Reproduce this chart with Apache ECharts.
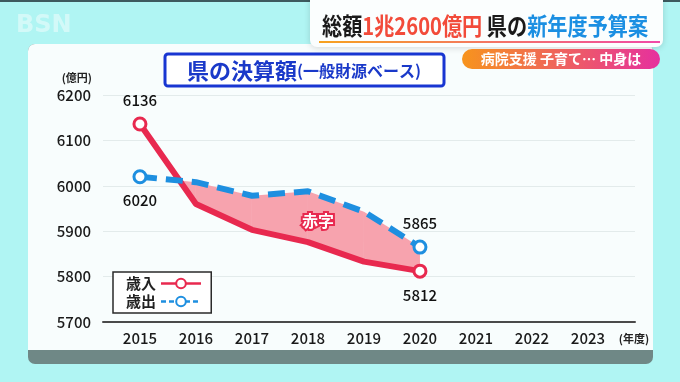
<!DOCTYPE html>
<html>
<head>
<meta charset="utf-8">
<script src="https://cdn.jsdelivr.net/npm/echarts@6/dist/echarts.min.js"></script>
<style>
html,body{margin:0;padding:0;background:#b0f5f3;}
#c{width:680px;height:382px;}
</style>
</head>
<body>
<div id="c"></div>
<script>
// ---- data ----
const axisYears = [2015, 2016, 2017, 2018, 2019, 2020, 2021, 2022, 2023];
const dataYears = [2015, 2016, 2017, 2018, 2019, 2020];
const revenue = [6136, 5960, 5903, 5876, 5833, 5812];      // 歳入
const expenditure = [6020, 6008, 5978, 5988, 5943, 5865];  // 歳出
const yTicks = [5700, 5800, 5900, 6000, 6100, 6200];
const seriesNames = ['歳入', '歳出'];

const FONT = '"Noto Sans CJK JP", "Noto Sans", sans-serif';
const RED = '#e8294f';
const BLUE = '#1e8fe0';
const FILL = '#f7a3ae';

const last = dataYears.length - 1;
function buildLine(values, firstPos, lastPos) {
  return values.map((v, i) => {
    const item = { value: [dataYears[i], v] };
    if (i === 0 || i === last) {
      item.label = { show: true, position: i === 0 ? firstPos : lastPos };
    } else {
      item.symbol = 'none';
    }
    return item;
  });
}

function renderFill(params, api) {
  const i = api.value(0);
  const r0 = api.coord([dataYears[i], revenue[i]]);
  const r1 = api.coord([dataYears[i + 1], revenue[i + 1]]);
  const b0 = api.coord([dataYears[i], expenditure[i]]);
  const b1 = api.coord([dataYears[i + 1], expenditure[i + 1]]);
  const d0 = expenditure[i] - revenue[i];
  const d1 = expenditure[i + 1] - revenue[i + 1];
  let pts;
  if (d0 >= 0 && d1 >= 0) {
    pts = [r0, r1, b1, b0];
  } else if (d0 < 0 && d1 > 0) {
    const t = -d0 / (d1 - d0);
    const p = [r0[0] + (r1[0] - r0[0]) * t, r0[1] + (r1[1] - r0[1]) * t];
    pts = [p, r1, b1];
  } else if (d0 > 0 && d1 < 0) {
    const t = d0 / (d0 - d1);
    const p = [r0[0] + (r1[0] - r0[0]) * t, r0[1] + (r1[1] - r0[1]) * t];
    pts = [r0, p, b0];
  } else {
    return null;
  }
  return { type: 'polygon', shape: { points: pts }, style: { fill: FILL } };
}

const chart = echarts.init(document.getElementById('c'), null, { renderer: 'canvas' });
const option = {
  backgroundColor: '#b0f5f3',
  animation: false,
  textStyle: { fontFamily: FONT },
  graphic: [
    // top dark line
    { type: 'rect', z: -20, shape: { x: 0, y: 0, width: 680, height: 2 }, style: { fill: '#3d5a5e' } },
    // BSN logo
    { type: 'text', z: -20, style: { x: 16, y: 26, text: 'BSN', fill: 'rgba(255,255,255,0.45)', font: 'bold 24px "DejaVu Sans", sans-serif', verticalAlign: 'middle' } },
    // panel (gray bottom band + white body)
    { type: 'rect', z: -20, shape: { x: 28, y: 44, width: 625, height: 320, r: 7 }, style: { fill: '#6f8886' } },
    { type: 'rect', z: -19, shape: { x: 28, y: 44, width: 625, height: 306, r: [7, 7, 0, 0] }, style: { fill: '#f8fdfd' } },
    // header box
    { type: 'rect', z: 10, shape: { x: 310, y: -6, width: 353, height: 53, r: 7 },
      style: { fill: '#fbfefe', shadowBlur: 6, shadowColor: 'rgba(0,0,0,0.15)', shadowOffsetY: 1 } },
    { type: 'rect', z: 11, shape: { x: 319, y: 41, width: 341, height: 2 },
      style: { fill: new echarts.graphic.LinearGradient(0, 0, 1, 0, [{ offset: 0, color: '#f7a21e' }, { offset: 1, color: '#f04aa8' }]) } },
    { type: 'text', z: 12, x: 322, y: 26, scaleX: 0.84, style: {
        x: 0, y: 0, verticalAlign: 'middle',
        text: '{k|総額}{r|1兆2600億円}{k| 県の}{b|新年度予算案}',
        rich: {
          k: { fontSize: 24, fontWeight: 'bold', fill: '#1a1a1a', fontFamily: FONT },
          r: { fontSize: 24, fontWeight: 'bold', fill: '#f24b3a', fontFamily: FONT },
          b: { fontSize: 24, fontWeight: 'bold', fill: '#1b8fe2', fontFamily: FONT }
        }
      } },
    // pill
    { type: 'rect', z: 12, shape: { x: 462, y: 49, width: 198, height: 20, r: 10 },
      style: { fill: new echarts.graphic.LinearGradient(0, 0, 1, 0, [{ offset: 0, color: '#f7941d' }, { offset: 1, color: '#e6309e' }]) } },
    { type: 'text', z: 13, style: { x: 561, y: 59, text: '病院支援 子育て… 中身は', fill: '#ffffff',
        font: 'bold 14px ' + FONT, align: 'center', verticalAlign: 'middle' } },
    // chart title box
    { type: 'rect', z: 5, shape: { x: 165, y: 54, width: 279, height: 32, r: 3 },
      style: { fill: '#ffffff', stroke: '#1836d2', lineWidth: 3 } },
    { type: 'text', z: 6, style: {
        x: 304, y: 71, align: 'center', verticalAlign: 'middle',
        text: '{a|県の決算額}{b|(一般財源ベース)}',
        rich: {
          a: { fontSize: 22, fontWeight: 'bold', fill: '#1a39c9', fontFamily: FONT },
          b: { fontSize: 16, fontWeight: 'bold', fill: '#1a39c9', fontFamily: FONT }
        }
      } },
    // deficit annotation
    { type: 'text', z: 20, style: { x: 318, y: 221, text: '赤字', fill: '#ffffff', stroke: RED, lineWidth: 4,
        font: 'bold 16px ' + FONT, align: 'center', verticalAlign: 'middle' } },
    // x axis unit
    { type: 'text', z: 5, style: { x: 634, y: 339, text: '(年度)', fill: '#222', font: 'bold 11px ' + FONT,
        align: 'center', verticalAlign: 'middle' } }
  ],
  grid: { left: 103, right: 45, top: 95, bottom: 60, containLabel: false },
  legend: {
    data: [
      { name: seriesNames[0], lineStyle: { width: 2.5 } },
      { name: seriesNames[1], lineStyle: { width: 2.5, type: [5, 3] } }
    ],
    orient: 'vertical',
    left: 113, top: 272,
    align: 'right',
    padding: [4, 9, 4, 13],
    itemGap: 3,
    itemWidth: 40,
    itemHeight: 12,
    backgroundColor: '#ffffff',
    borderColor: '#2a2a2a',
    borderWidth: 1.5,
    borderRadius: 0,
    textStyle: { fontSize: 15, fontWeight: 'bold', color: '#222', fontFamily: FONT }
  },
  xAxis: {
    type: 'value',
    min: 2014.34,
    max: 2023.84,
    minInterval: 1,
    maxInterval: 1,
    axisLine: { show: true, lineStyle: { color: '#4a4a4a', width: 2 } },
    axisTick: { show: false },
    splitLine: { show: false },
    axisLabel: {
      showMinLabel: false, showMaxLabel: false,
      margin: 9, fontSize: 15, color: '#1a1a1a', fontFamily: FONT, fontWeight: 500,
      formatter: v => (axisYears.indexOf(Math.round(v)) >= 0 && Math.abs(v - Math.round(v)) < 1e-6) ? String(Math.round(v)) : ''
    }
  },
  yAxis: {
    type: 'value',
    min: yTicks[0],
    max: yTicks[yTicks.length - 1],
    interval: 100,
    name: '(億円)',
    nameLocation: 'end',
    nameGap: 12,
    nameTextStyle: { fontSize: 11, color: '#222', fontWeight: 'bold', align: 'right', padding: [0, 11, 0, 0], fontFamily: FONT },
    axisLine: { show: false },
    axisTick: { show: false },
    splitLine: { lineStyle: { color: '#e3ebeb', width: 1 } },
    axisLabel: { margin: 12, fontSize: 15, color: '#1a1a1a', fontFamily: FONT, fontWeight: 500, formatter: v => String(v) }
  },
  series: [
    {
      type: 'custom',
      name: 'fill',
      coordinateSystem: 'cartesian2d',
      renderItem: renderFill,
      data: dataYears.slice(0, last).map((y, i) => [i]),
      encode: { x: -1, y: -1 },
      z: 1,
      silent: true
    },
    {
      type: 'line',
      name: seriesNames[0],
      data: buildLine(revenue, 'top', 'bottom'),
      z: 3,
      symbol: 'circle',
      symbolSize: 12,
      color: RED,
      lineStyle: { color: RED, width: 6 },
      itemStyle: { color: '#ffffff', borderColor: RED, borderWidth: 3 },
      label: { show: false, distance: 9, fontSize: 15, color: '#111', fontFamily: FONT, fontWeight: 500, formatter: p => p.value[1] }
    },
    {
      type: 'line',
      name: seriesNames[1],
      data: buildLine(expenditure, 'bottom', 'top'),
      z: 4,
      symbol: 'circle',
      symbolSize: 12,
      color: BLUE,
      lineStyle: { color: BLUE, width: 6, type: [17, 9], cap: 'butt' },
      itemStyle: { color: '#ffffff', borderColor: BLUE, borderWidth: 3 },
      label: { show: false, distance: 9, fontSize: 15, color: '#111', fontFamily: FONT, fontWeight: 500, formatter: p => p.value[1] }
    }
  ]
};
chart.setOption(option);
</script>
</body>
</html>
